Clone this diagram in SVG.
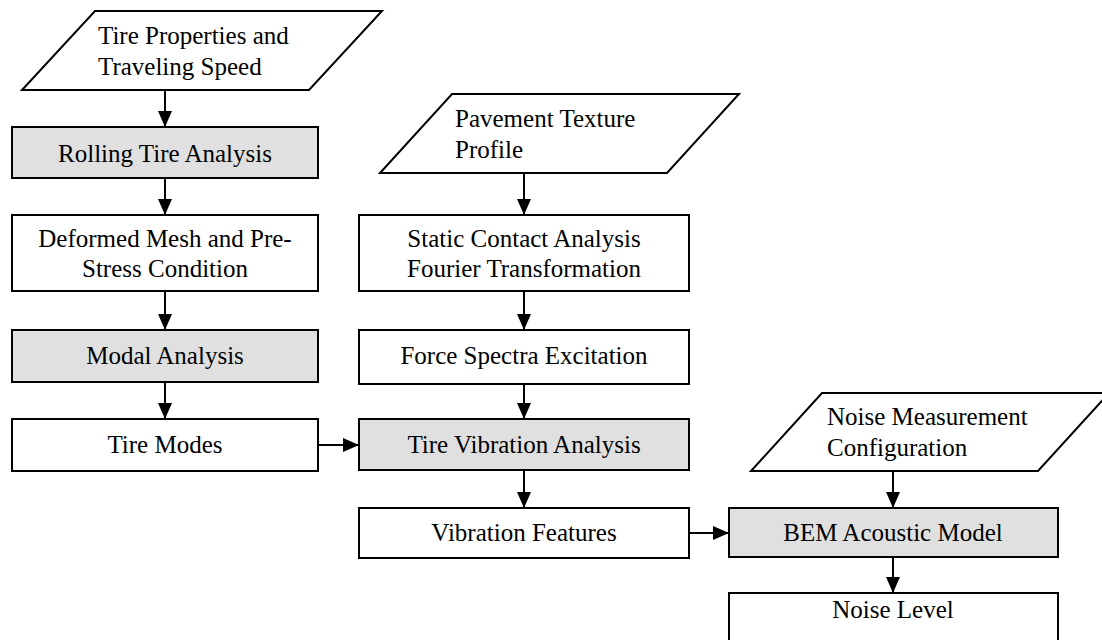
<svg xmlns="http://www.w3.org/2000/svg" width="1102" height="640" viewBox="0 0 1102 640">
  <style>
    .shape { stroke: #000; stroke-width: 2; fill: #fff; }
    .proc { fill: #e0e0e0; }
    .mid { text-anchor: middle; }
    .conn line { stroke: #000; stroke-width: 2; marker-end: url(#arrow); }
  </style>
  <defs>
    <marker id="arrow" markerUnits="userSpaceOnUse" viewBox="0 0 16 14" refX="16" refY="7" markerWidth="16" markerHeight="14" orient="auto">
      <path d="M0,0 L16,7 L0,14 z" fill="#000"/>
    </marker>
  </defs>
  <rect width="1102" height="640" fill="#fff"/>

  <g font-family="Liberation Serif, Times New Roman, serif" font-size="25" fill="#000">
    <!-- inputs -->
    <g id="tire-properties">
      <polygon class="shape" points="95,11 382,11 309,90 22,90"/>
      <text x="98" y="44">Tire Properties and</text>
      <text x="98" y="75">Traveling Speed</text>
    </g>
    <g id="pavement-texture">
      <polygon class="shape" points="452,94 739,94 667,173 380,173"/>
      <text x="455" y="127">Pavement Texture</text>
      <text x="455" y="158">Profile</text>
    </g>
    <g id="noise-measurement">
      <polygon class="shape" points="822,393 1109,393 1038,471 751,471"/>
      <text x="827" y="425">Noise Measurement</text>
      <text x="827" y="456">Configuration</text>
    </g>

    <!-- left column -->
    <g id="rolling-tire">
      <rect class="shape proc" x="12" y="127" width="306" height="51"/>
      <text class="mid" x="165" y="162">Rolling Tire Analysis</text>
    </g>
    <g id="deformed-mesh">
      <rect class="shape" x="12" y="215" width="306" height="76"/>
      <text class="mid" x="165" y="247">Deformed Mesh and Pre-</text>
      <text class="mid" x="165" y="277">Stress Condition</text>
    </g>
    <g id="modal-analysis">
      <rect class="shape proc" x="12" y="330" width="306" height="52"/>
      <text class="mid" x="165" y="364">Modal Analysis</text>
    </g>
    <g id="tire-modes">
      <rect class="shape" x="12" y="419" width="306" height="52"/>
      <text class="mid" x="165" y="453">Tire Modes</text>
    </g>

    <!-- middle column -->
    <g id="static-contact">
      <rect class="shape" x="359" y="215" width="330" height="76"/>
      <text class="mid" x="524" y="247">Static Contact Analysis</text>
      <text class="mid" x="524" y="277">Fourier Transformation</text>
    </g>
    <g id="force-spectra">
      <rect class="shape" x="359" y="330" width="330" height="54"/>
      <text class="mid" x="524" y="364">Force Spectra Excitation</text>
    </g>
    <g id="tire-vibration">
      <rect class="shape proc" x="359" y="419" width="330" height="51"/>
      <text class="mid" x="524" y="453">Tire Vibration Analysis</text>
    </g>
    <g id="vibration-features">
      <rect class="shape" x="359" y="508" width="330" height="50"/>
      <text class="mid" x="524" y="541">Vibration Features</text>
    </g>

    <!-- right column -->
    <g id="bem-model">
      <rect class="shape proc" x="729" y="508" width="329" height="49"/>
      <text class="mid" x="893" y="541">BEM Acoustic Model</text>
    </g>
    <g id="noise-level">
      <rect class="shape" x="729" y="593" width="329" height="52"/>
      <text class="mid" x="893" y="618">Noise Level</text>
    </g>
  </g>

  <!-- connectors -->
  <g id="connectors" class="conn">
    <line x1="165" y1="90" x2="165" y2="127"/>
    <line x1="165" y1="178" x2="165" y2="215"/>
    <line x1="165" y1="291" x2="165" y2="330"/>
    <line x1="165" y1="382" x2="165" y2="419"/>
    <line x1="318" y1="445" x2="359" y2="445"/>
    <line x1="524" y1="173" x2="524" y2="215"/>
    <line x1="524" y1="291" x2="524" y2="330"/>
    <line x1="524" y1="384" x2="524" y2="419"/>
    <line x1="524" y1="470" x2="524" y2="508"/>
    <line x1="689" y1="533" x2="729" y2="533"/>
    <line x1="893" y1="471" x2="893" y2="508"/>
    <line x1="893" y1="557" x2="893" y2="593"/>
  </g>
</svg>
